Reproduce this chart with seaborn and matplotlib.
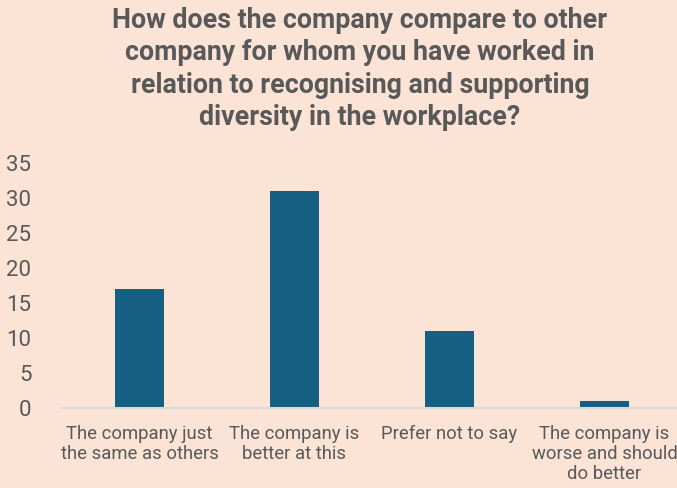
import matplotlib
matplotlib.use("Agg")
import matplotlib.pyplot as plt
import seaborn as sns
import pandas as pd

categories = [
    "The company just\nthe same as others",
    "The company is\nbetter at this",
    "Prefer not to say",
    "The company is\nworse and should\ndo better",
]
counts = [17, 31, 11, 1]
y_ticks = [0, 5, 10, 15, 20, 25, 30, 35]

title = ("How does the company compare to other\n"
         "company for whom you have worked in\n"
         "relation to recognising and supporting\n"
         "diversity in the workplace?")

bg = "#FBE3D6"
bar_color = "#156082"
text_color = "#595959"

sns.set_theme(style="white")
plt.rcParams["font.family"] = ["Roboto", "DejaVu Sans"]

df = pd.DataFrame({"category": categories, "count": counts})

W, H = 677, 488
fig = plt.figure(figsize=(W / 100, H / 100), dpi=100, facecolor=bg)
ax = fig.add_axes([62 / W, (H - 408) / H, 620 / W, (408 - 163) / H])
ax.set_facecolor(bg)

sns.barplot(data=df, x="category", y="count", color=bar_color,
            width=0.31, saturation=1, linewidth=0, ax=ax)

ax.set_ylim(0, 35)
ax.set_yticks(y_ticks)
ax.set_xlim(-0.5, 3.5)
ax.set_xlabel("")
ax.set_ylabel("")
for s in ["top", "right", "left"]:
    ax.spines[s].set_visible(False)
ax.spines["bottom"].set_color("#D9D9D9")
ax.spines["bottom"].set_linewidth(1.5)
ax.tick_params(axis="y", labelsize=16, labelcolor=text_color, length=0, pad=22)
ax.tick_params(axis="x", labelsize=13.3, labelcolor=text_color, length=0, pad=12)
for lbl in ax.get_xticklabels():
    lbl.set_linespacing(1.15)
for lbl in ax.get_yticklabels():
    lbl.set_horizontalalignment("right")

fig.text(360 / W, 1 - 7 / H, title, ha="center", va="top", fontsize=19.3,
         fontweight="bold", color=text_color, linespacing=1.26)

fig.savefig("out.png", dpi=100, facecolor=bg)
